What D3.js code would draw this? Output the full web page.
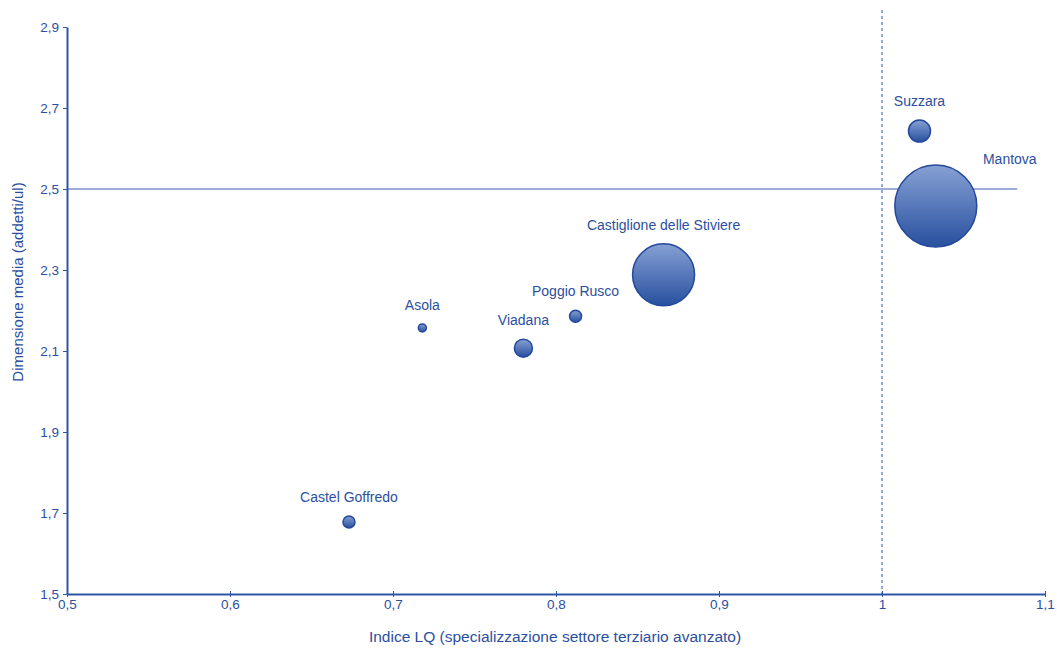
<!DOCTYPE html>
<html><head><meta charset="utf-8">
<script src="https://cdn.jsdelivr.net/npm/d3@7"></script>
<style>body{margin:0;background:#fff;}svg{display:block;font-family:"Liberation Sans",Arial,sans-serif;}</style>
</head><body><svg id="c" width="1057" height="650"></svg>
<script>
const names = ["Castel Goffredo","Asola","Viadana","Poggio Rusco","Castiglione delle Stiviere","Suzzara","Mantova"];
const lqValues = [0.673, 0.718, 0.780, 0.812, 0.866, 1.023, 1.033];
const sizeValues = [1.678, 2.157, 2.107, 2.186, 2.288, 2.643, 2.458];
const weights = [36, 16, 81, 36, 961, 121, 1681];
const xTicks = [0.5,0.6,0.7,0.8,0.9,1,1.1];
const yTicks = [1.5,1.7,1.9,2.1,2.3,2.5,2.7,2.9];
const refX = 1, refY = 2.5, refLineEndX = 1.083;

const svg = d3.select("#c");
const col = "#2b4f9e";
const x = d3.scaleLinear().domain([0.5,1.1]).range([67,1045]);
const y = d3.scaleLinear().domain([1.5,2.9]).range([594,27]);
const r = d3.scaleSqrt().domain([0,1681]).range([0,41]);
const fmt = d => String(d).replace(".", ",");

const defs = svg.append("defs");
const g = defs.append("linearGradient").attr("id","bub").attr("x1",0).attr("y1",0).attr("x2",0).attr("y2",1);
g.append("stop").attr("offset","0%").attr("stop-color","#86a0d4");
g.append("stop").attr("offset","100%").attr("stop-color","#28509f");

// reference lines
svg.append("line").attr("x1",x(refX)).attr("x2",x(refX)).attr("y1",10).attr("y2",y(1.5))
  .attr("stroke","#6b8cc8").attr("stroke-width",1.5).attr("stroke-dasharray","3,3");
svg.append("line").attr("x1",x(0.5)).attr("x2",x(refLineEndX)).attr("y1",y(refY)).attr("y2",y(refY))
  .attr("stroke","#3a5eab").attr("stroke-width",1);

// axes
const xa = svg.append("g").attr("transform",`translate(0,${y(1.5)})`)
  .call(d3.axisBottom(x).tickValues(xTicks).tickFormat(fmt).tickSize(3).tickPadding(2).tickSizeOuter(0));
const ya = svg.append("g").attr("transform",`translate(${x(0.5)},0)`)
  .call(d3.axisLeft(y).tickValues(yTicks).tickFormat(fmt).tickSize(4).tickPadding(4).tickSizeOuter(0));
[xa,ya].forEach(a=>{
  a.select(".domain").attr("stroke","#2f56a4").attr("stroke-width",2);
  a.selectAll(".tick line").attr("stroke","#2f56a4");
  a.selectAll(".tick text").attr("fill",col).attr("font-size",13.5).attr("font-family","Liberation Sans, Arial, sans-serif");
});
xa.selectAll(".tick line").attr("y1",-3).attr("y2",3);

// titles
svg.append("text").attr("x",555).attr("y",642).attr("text-anchor","middle").attr("fill",col)
  .attr("font-size",15.5).text("Indice LQ (specializzazione settore terziario avanzato)");
svg.append("text").attr("transform","translate(23,282) rotate(-90)").attr("text-anchor","middle").attr("fill",col)
  .attr("font-size",15).text("Dimensione media (addetti/ul)");

const data = names.map((n,i)=>({n, lx:lqValues[i], sy:sizeValues[i], w:weights[i]}));
svg.append("g").selectAll("circle").data(data).join("circle")
  .attr("cx",d=>x(d.lx)).attr("cy",d=>y(d.sy)).attr("r",d=>r(d.w))
  .attr("fill","url(#bub)").attr("stroke","#24499a").attr("stroke-width",1.5);

const labelOff = {"Mantova":[74,-42]};
svg.append("g").selectAll("text").data(data).join("text")
  .attr("x",d=>x(d.lx)+(labelOff[d.n]?labelOff[d.n][0]:0))
  .attr("y",d=>labelOff[d.n]? y(d.sy)+labelOff[d.n][1] : y(d.sy)-r(d.w)-14)
  .attr("text-anchor","middle").attr("fill",col).attr("font-size",14).text(d=>d.n);
</script></body></html>
